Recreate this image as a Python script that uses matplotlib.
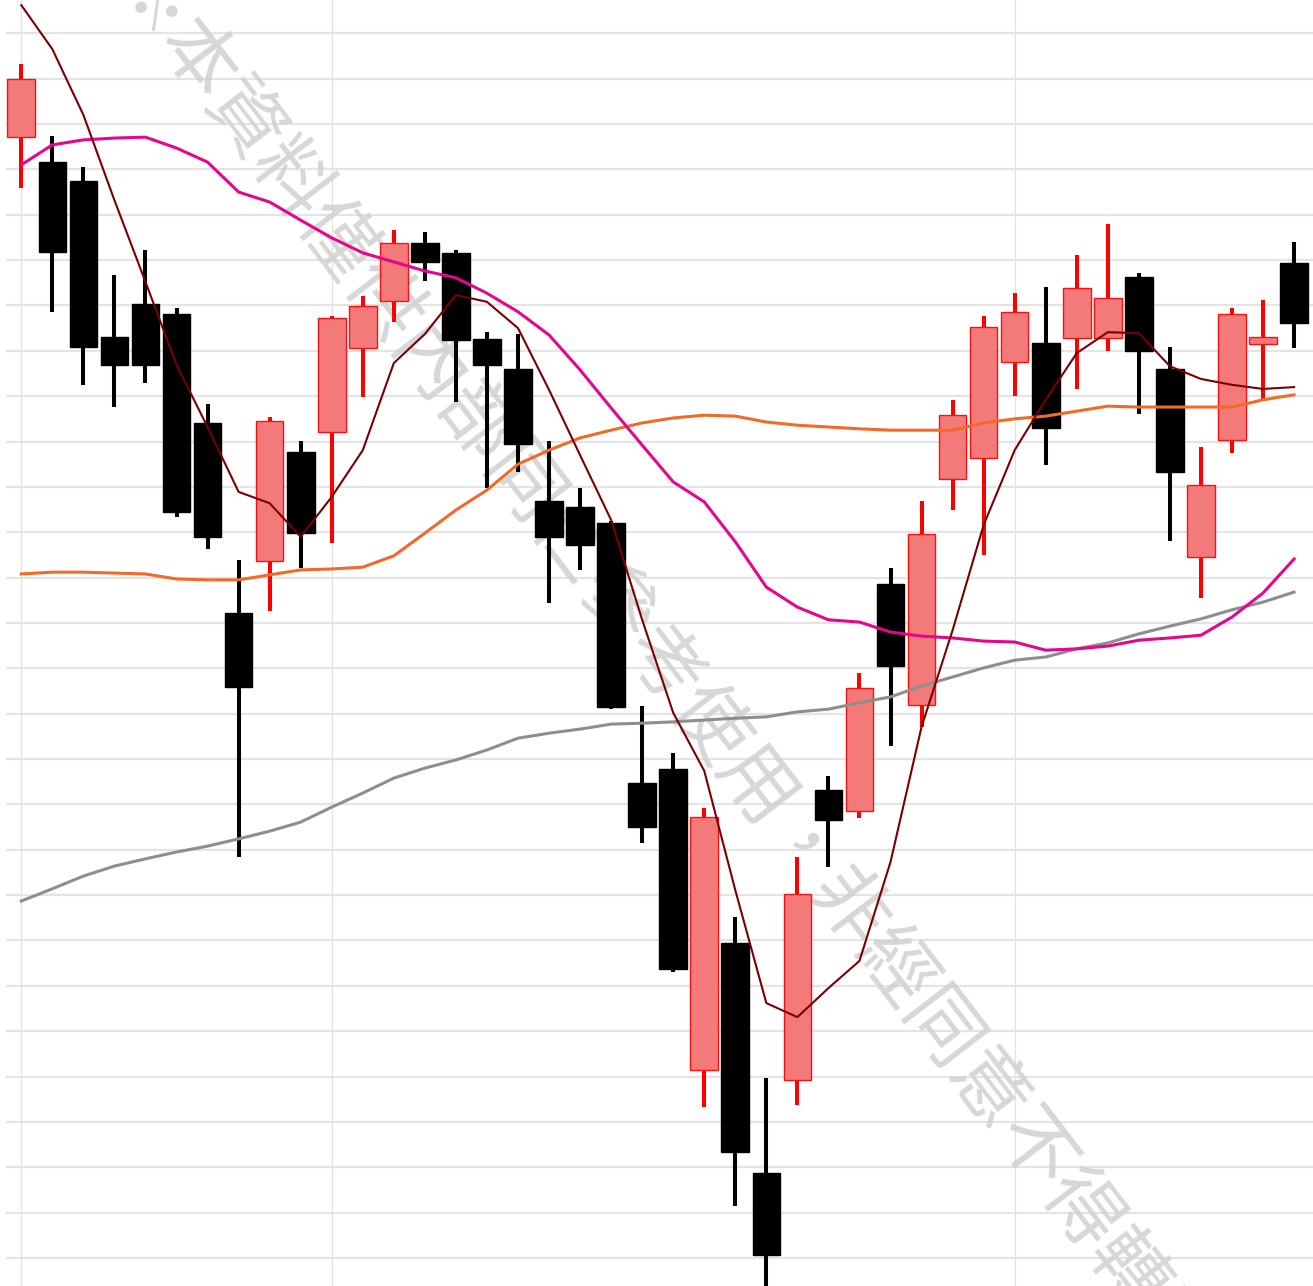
import matplotlib
matplotlib.use("Agg")
import matplotlib.pyplot as plt
import numpy as np

# daily OHLC (index points), 42 sessions
opens = [22471, 22416, 22374, 22030, 22103, 22081, 21841, 21422, 21537, 21777,
         21821, 22006, 22110, 22238, 22216, 22026, 21960, 21669, 21656, 21620,
         21047, 21078, 20414, 20694, 20187, 20392, 21032, 20985, 21486, 21219,
         21717, 21764, 21975, 22017, 22028, 22028, 22163, 21960, 21545, 21803,
         22015, 22194]
highs = [22632, 22474, 22405, 22167, 22222, 22094, 21883, 21539, 21854, 21801,
         22077, 22121, 22266, 22262, 22222, 22041, 22037, 21801, 21698, 21625,
         21217, 21113, 20992, 20752, 20397, 20884, 21063, 21290, 21521, 21669,
         21892, 22077, 22127, 22141, 22211, 22280, 22172, 22008, 21788, 22094,
         22112, 22240]
lows = [22359, 22086, 21925, 21876, 21929, 21634, 21563, 20884, 21426, 21521,
        21576, 21898, 22064, 22154, 21887, 21698, 21733, 21444, 21517, 21210,
        20915, 20631, 20333, 20115, 19934, 20337, 20862, 20970, 21129, 21171,
        21649, 21550, 21900, 21748, 21916, 22000, 21861, 21581, 21455, 21775,
        21894, 22006]
closes = [22599, 22218, 22008, 21969, 21969, 21645, 21590, 21259, 21845, 21598,
          22072, 22099, 22238, 22196, 22024, 21969, 21795, 21590, 21572, 21215,
          20950, 20637, 20972, 20234, 20007, 20802, 20966, 21257, 21305, 21596,
          21858, 22052, 22086, 21830, 22138, 22116, 22000, 21733, 21704, 22081,
          22030, 22061]

# moving averages
ma5 = [22762, 22665, 22520, 22332, 22152, 21969, 21832, 21689, 21664, 21590,
       21678, 21781, 21973, 22037, 22123, 22108, 22050, 21914, 21770, 21627,
       21407, 21202, 21074, 20811, 20562, 20531, 20595, 20655, 20873, 21171,
       21384, 21616, 21781, 21892, 21995, 22041, 22039, 21966, 21938, 21925,
       21916, 21920]
ma20 = [22410, 22454, 22465, 22469, 22471, 22447, 22416, 22350, 22328, 22288,
        22249, 22216, 22196, 22176, 22161, 22127, 22086, 22035, 21958, 21874,
        21792, 21711, 21667, 21579, 21479, 21435, 21407, 21402, 21380, 21371,
        21367, 21360, 21358, 21340, 21343, 21349, 21362, 21367, 21373, 21413,
        21466, 21541]
ma60 = [21508, 21512, 21512, 21510, 21508, 21497, 21495, 21495, 21506, 21517,
        21519, 21523, 21548, 21598, 21649, 21693, 21750, 21781, 21808, 21825,
        21841, 21852, 21858, 21856, 21843, 21836, 21832, 21828, 21825, 21825,
        21825, 21841, 21850, 21856, 21867, 21878, 21876, 21876, 21876, 21876,
        21892, 21903]
ma120 = [20787, 20814, 20842, 20864, 20880, 20895, 20908, 20924, 20941, 20961,
         20994, 21025, 21058, 21080, 21098, 21120, 21146, 21157, 21166, 21177,
         21179, 21182, 21186, 21190, 21193, 21204, 21210, 21224, 21237, 21261,
         21281, 21301, 21318, 21325, 21343, 21356, 21376, 21393, 21409, 21429,
         21446, 21468]

month_starts = [0, 10, 32]
watermark = "※本資料僅供內部同仁參考使用，非經同意不得轉載"

x = np.arange(len(opens))
o = np.array(opens)
c = np.array(closes)
up = c >= o

fig = plt.figure(figsize=(13.13, 12.86), dpi=100)
ax = fig.add_axes([6 / 1313, 0, 1307 / 1313, 1])

# watermark behind everything
ax.text(0.499, 0.477, watermark, transform=ax.transAxes, rotation=-52.5,
        rotation_mode="anchor", ha="center", va="center",
        fontsize=55, color="#d0d0d0", alpha=0.85,
        family=["Noto Sans CJK TC", "DejaVu Sans"], zorder=1)

wick_col = np.where(up, "#ff0000", "#000000")
ax.vlines(x, lows, highs, colors=wick_col, lw=2.9, zorder=2)
ax.bar(x[up], (c - o)[up], bottom=o[up], width=0.89,
       color="#f47a7a", edgecolor="#ff1010", linewidth=1.0, zorder=3)
ax.bar(x[~up], (o - c)[~up], bottom=c[~up], width=0.89,
       color="#000000", edgecolor="#000000", linewidth=1.0, zorder=3)

ax.plot(x, ma120, color="#8e8e8e", lw=2.2, zorder=4)
ax.plot(x, ma60, color="#f26a28", lw=2.2, zorder=4)
ax.plot(x, ma20, color="#e5068e", lw=2.2, zorder=4)
ax.plot(x, ma5, color="#780000", lw=1.5, zorder=5)

ax.set_xlim(-0.493, 41.61)
ax.set_ylim(19938.3, 22773.4)
ax.set_yticks(np.arange(20000, 22701, 100))
ax.set_xticks(month_starts)
ax.yaxis.grid(True, color="#e4e4e4", lw=1.6)
ax.xaxis.grid(True, color="#e2e2e2", lw=0.9)
ax.set_axisbelow(True)
ax.tick_params(length=0, labelleft=False, labelbottom=False)
for s in ax.spines.values():
    s.set_visible(False)

fig.savefig("out.png", dpi=100, facecolor="white")
